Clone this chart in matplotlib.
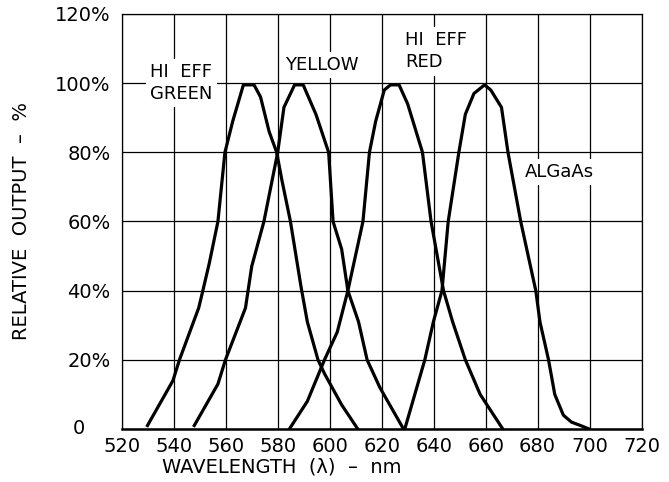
import matplotlib
matplotlib.use("Agg")
import matplotlib.pyplot as plt
import matplotlib.transforms as mtransforms

# Wavelength (nm) and relative output (%)
green_x = [529.9, 539.7, 542.2, 549.6, 551.2, 553.7, 557.0, 559.7, 562.7, 566.8, 570.9,
           573.4, 576.7, 579.6, 581.6, 584.9, 589.0, 591.4, 595.5, 598.0, 604.6, 610.8]
green_y = [1, 14, 20, 35, 40, 48, 60, 80, 89, 99.5, 99.5,
           96, 86, 80, 72, 60, 41, 31, 20, 16, 7, 0]

yellow_x = [547.9, 557.0, 559.9, 567.6, 570.0, 574.7, 580.0, 582.4, 586.5, 589.8, 594.7,
            599.6, 601.3, 604.6, 607.0, 611.1, 614.4, 619.3, 628.4]
yellow_y = [1, 13, 20, 35, 47, 60, 80, 93, 99.5, 99.5, 91,
            80, 60, 52, 40, 31, 20, 12, 0]

red_x = [584.5, 591.4, 598.0, 602.9, 607.0, 612.8, 615.3, 617.7, 621.0, 623.4, 626.7,
         630.0, 635.7, 639.0, 643.8, 647.3, 652.2, 657.9, 666.6]
red_y = [0, 8, 20, 28, 40, 60, 80, 89, 98, 99.5, 99.5,
         94, 80, 60, 40, 31, 20, 10, 0]

algaas_x = [628.9, 636.6, 639.9, 643.2, 645.6, 649.7, 652.2, 655.5, 659.6, 662.0, 666.1,
            668.6, 673.5, 679.3, 680.9, 684.2, 686.6, 689.9, 693.0, 696.5, 699.8]
algaas_y = [0, 20, 31, 40, 60, 80, 91, 97, 99.5, 98, 93,
            80, 60, 40, 31, 20, 10, 4, 2, 1, 0]

x_ticks = [520, 540, 560, 580, 600, 620, 640, 660, 680, 700, 720]
y_ticks = [0, 20, 40, 60, 80, 100, 120]
y_tick_labels = ["", "20%", "40%", "60%", "80%", "100%", "120%"]

fig = plt.figure(figsize=(6.69, 4.82), dpi=100)
ax = fig.add_axes([0.182, 0.110, 0.777, 0.861])

ax.set_xlim(520, 720)
ax.set_ylim(0, 120)
ax.set_xticks(x_ticks)
ax.set_yticks(y_ticks)
ax.set_xticklabels([str(v) for v in x_ticks], fontsize=14)
ax.set_yticklabels(y_tick_labels, fontsize=14)
ax.tick_params(axis="both", length=0)
ax.tick_params(axis="x", pad=6)
ax.tick_params(axis="y", pad=8)

ax.grid(True, color="black", linewidth=0.9, zorder=1)
ax.set_axisbelow(True)
for side in ["top", "right", "left"]:
    ax.spines[side].set_linewidth(0.9)
ax.spines["bottom"].set_linewidth(1.8)

for xs, ys in [(green_x, green_y), (yellow_x, yellow_y), (red_x, red_y), (algaas_x, algaas_y)]:
    ax.plot(xs, ys, color="black", linewidth=2.3, solid_joinstyle="round", zorder=4)

box = dict(facecolor="white", edgecolor="none", pad=3)
ax.text(531.0, 100, "HI  EFF\nGREEN", fontsize=13, ha="left", va="center",
        linespacing=1.3, bbox=box, zorder=3)
ax.text(582.8, 105.2, "YELLOW", fontsize=13, ha="left", va="center", bbox=box, zorder=3)
ax.text(629.0, 109.2, "HI  EFF\nRED", fontsize=13, ha="left", va="center",
        linespacing=1.3, bbox=box, zorder=3)
ax.text(675.0, 74.3, "ALGaAs", fontsize=13, ha="left", va="center", bbox=box, zorder=3)

# "0" label placed further left, as in the reference
trans = mtransforms.blended_transform_factory(fig.transFigure, ax.transData)
fig.text(79 / 669, 0, "0", fontsize=14, ha="center", va="center", transform=trans)

fig.text(22 / 669, 0.5 * (0.110 + 0.971), "RELATIVE  OUTPUT  –  %", fontsize=14,
         rotation=90, ha="center", va="center")
fig.text(282 / 669, 1 - 467 / 482, "WAVELENGTH  (λ)  –  nm", fontsize=14,
         ha="center", va="center")

fig.savefig("out.png", dpi=100)
